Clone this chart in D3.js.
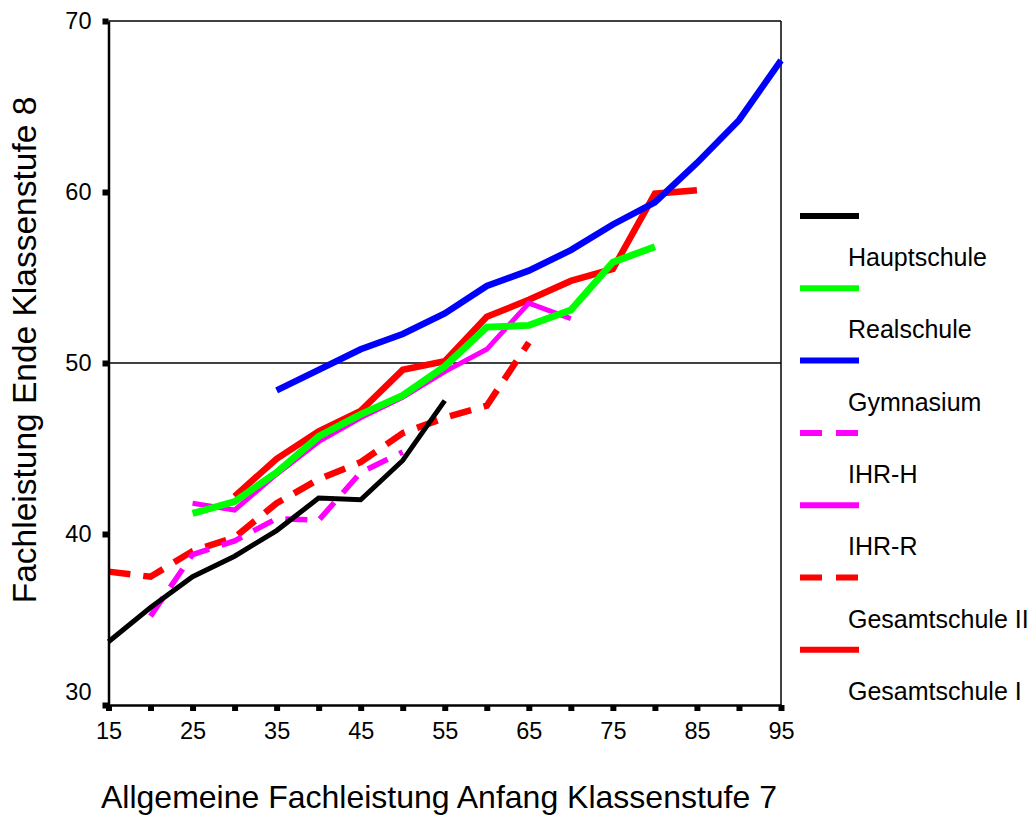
<!DOCTYPE html>
<html>
<head>
<meta charset="utf-8">
<script src="https://cdn.jsdelivr.net/npm/d3@7"></script>
<style>
  html, body { margin: 0; padding: 0; background: #fff; }
  svg { display: block; font-family: Arial, "Liberation Sans", sans-serif; }
</style>
</head>
<body>
<svg id="chart" width="1029" height="826"></svg>
<script>
// Allgemeine Fachleistung Anfang Klassenstufe 7 (x grid)
const fachleistung7 = [15, 20, 25, 30, 35, 40, 45, 50, 55, 60, 65, 70, 75, 80, 85, 90, 95];

// Mean Fachleistung Ende Klassenstufe 8 per school type (null = no data)
const hauptschule     = [33.7, 35.7, 37.5, 38.7, 40.2, 42.1, 42.0, 44.3, 47.8, null, null, null, null, null, null, null, null];
const realschule      = [null, null, 41.2, 41.9, 43.6, 45.7, 47.0, 48.1, 49.8, 52.1, 52.2, 53.1, 55.9, 56.8, null, null, null];
const gymnasium       = [null, null, null, null, 48.4, 49.6, 50.8, 51.7, 52.9, 54.5, 55.4, 56.6, 58.1, 59.4, 61.7, 64.2, 67.7];
const ihrH            = [null, 35.2, 38.8, 39.6, 40.9, 40.8, 43.6, 44.8, null, null, null, null, null, null, null, null, null];
const ihrR            = [null, null, 41.8, 41.4, 43.5, 45.4, 46.8, 48.0, 49.5, 50.8, 53.5, 52.6, null, null, null, null, null];
const gesamtschuleII  = [37.8, 37.5, 39.0, 39.8, 41.8, 43.2, 44.2, 45.9, 46.8, 47.5, 51.2, null, null, null, null, null, null];
const gesamtschuleI   = [null, null, null, 42.2, 44.4, 46.0, 47.2, 49.6, 50.1, 52.7, 53.7, 54.8, 55.5, 59.9, 60.1, null, null];

const seriesNames = ["Hauptschule", "Realschule", "Gymnasium", "IHR-H", "IHR-R", "Gesamtschule II", "Gesamtschule I"];
const seriesValues = [hauptschule, realschule, gymnasium, ihrH, ihrR, gesamtschuleII, gesamtschuleI];
const seriesColors = ["#000000", "#00ff00", "#0000ff", "#ff00ff", "#ff00ff", "#ff0000", "#ff0000"];
const seriesDashed = [false, false, false, true, false, true, false];
const seriesWidths = [5, 7, 6.5, 5.5, 5, 6.5, 6.5];

const xTicks = [15, 20, 25, 30, 35, 40, 45, 50, 55, 60, 65, 70, 75, 80, 85, 90, 95];
const xTickLabels = [15, 25, 35, 45, 55, 65, 75, 85, 95];
const yTicks = [30, 40, 50, 60, 70];
const referenceLevel = 50;

const svg = d3.select("#chart");
const plot = { left: 108.5, right: 781, top: 21, bottom: 705 };

const x = d3.scaleLinear().domain([15, 95]).range([plot.left, plot.right]);
const y = d3.scaleLinear().domain([30, 70]).range([plot.bottom, plot.top]);

// Frame: top and right border
svg.append("line").attr("x1", plot.left).attr("x2", plot.right).attr("y1", plot.top).attr("y2", plot.top)
  .attr("stroke", "#000").attr("stroke-width", 1.5);
svg.append("line").attr("x1", plot.right).attr("x2", plot.right).attr("y1", plot.top).attr("y2", plot.bottom)
  .attr("stroke", "#000").attr("stroke-width", 1.5);

// Reference line at 50
svg.append("line").attr("x1", plot.left).attr("x2", plot.right)
  .attr("y1", y(referenceLevel)).attr("y2", y(referenceLevel))
  .attr("stroke", "#000").attr("stroke-width", 1.6);

// Series lines
const line = d3.line()
  .defined(d => d.v != null)
  .x(d => x(d.x))
  .y(d => y(d.v));

const drawOrder = [5, 6, 3, 0, 4, 1, 2];
drawOrder.forEach(i => {
  const pts = fachleistung7.map((xv, j) => ({ x: xv, v: seriesValues[i][j] }));
  svg.append("path")
    .datum(pts)
    .attr("d", line)
    .attr("fill", "none")
    .attr("stroke", seriesColors[i])
    .attr("stroke-width", seriesWidths[i])
    .attr("stroke-linejoin", "miter")
    .attr("stroke-dasharray", seriesDashed[i] ? "22,13" : null);
});

// X axis with square tick marks
const xAxis = svg.append("g")
  .attr("transform", `translate(0,${plot.bottom})`)
  .call(d3.axisBottom(x)
    .tickValues(xTicks)
    .tickSize(6)
    .tickPadding(11)
    .tickSizeOuter(0)
    .tickFormat(d => xTickLabels.includes(d) ? d : ""));
xAxis.select(".domain").attr("stroke", "#000").attr("stroke-width", 2.5);
xAxis.selectAll(".tick line").attr("stroke", "#000").attr("stroke-width", 6);
xAxis.selectAll(".tick text").attr("font-size", 23.5).attr("fill", "#000")
  .attr("font-family", "Arial, 'Liberation Sans', sans-serif");

// Y axis with square tick marks
const yAxis = svg.append("g")
  .attr("transform", `translate(${plot.left},0)`)
  .call(d3.axisLeft(y)
    .tickValues(yTicks)
    .tickSize(6)
    .tickPadding(11)
    .tickSizeOuter(0));
yAxis.select(".domain").attr("stroke", "#000").attr("stroke-width", 2.5);
yAxis.selectAll(".tick line").attr("stroke", "#000").attr("stroke-width", 6);
yAxis.selectAll(".tick text").attr("font-size", 23.5).attr("fill", "#000")
  .attr("font-family", "Arial, 'Liberation Sans', sans-serif")
  .attr("dy", d => d === 30 ? "-0.25em" : "0.32em");

// Axis titles
svg.append("text")
  .attr("x", 439).attr("y", 808)
  .attr("text-anchor", "middle")
  .attr("font-size", 32)
  .text("Allgemeine Fachleistung Anfang Klassenstufe 7");

svg.append("text")
  .attr("transform", "translate(36,350) rotate(-90)")
  .attr("text-anchor", "middle")
  .attr("font-size", 33.5)
  .text("Fachleistung Ende Klassenstufe 8");

// Legend: sample line with its label underneath
const legend = svg.append("g").attr("transform", "translate(800,216)");
seriesNames.forEach((name, i) => {
  const g = legend.append("g").attr("transform", `translate(0,${i * 72.3})`);
  g.append("line")
    .attr("x1", 0).attr("x2", 59).attr("y1", 0).attr("y2", 0)
    .attr("stroke", seriesColors[i])
    .attr("stroke-width", 6)
    .attr("stroke-dasharray", seriesDashed[i] ? "22,14" : null);
  g.append("text")
    .attr("x", 48).attr("y", 50)
    .attr("font-size", 25)
    .text(name);
});
</script>
</body>
</html>
